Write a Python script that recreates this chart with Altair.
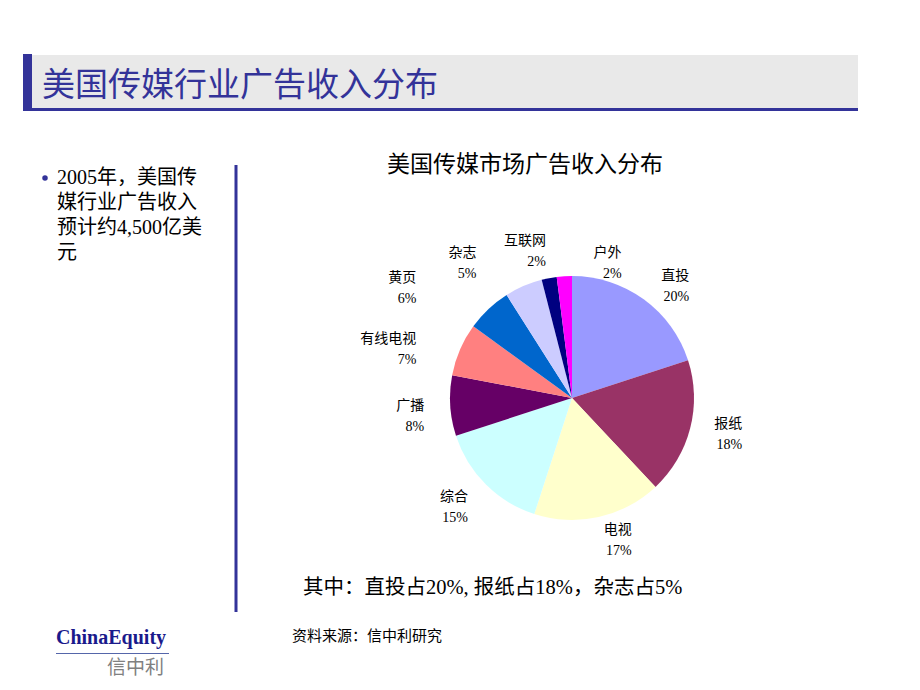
import altair as alt
import pandas as pd

# ---- data ----
categories = ["直投", "报纸", "电视", "综合", "广播", "有线电视", "黄页", "杂志", "互联网", "户外"]
shares = [20, 18, 17, 15, 8, 7, 6, 5, 2, 2]
colors = ["#9999FF", "#993366", "#FFFFCC", "#CCFFFF", "#660066",
          "#FF8080", "#0066CC", "#CCCCFF", "#000080", "#FF00FF"]

title_text = "美国传媒行业广告收入分布"
chart_title = "美国传媒市场广告收入分布"
bullet_text = "2005年，美国传\n媒行业广告收入\n预计约4,500亿美\n元"
note_text = "其中：直投占20%, 报纸占18%，杂志占5%"
source_text = "资料来源：信中利研究"

# label nudges (layout only)
label_nudge = {
    "直投": (29, -1), "报纸": (25, -11), "电视": (27, -14), "综合": (2, -7),
    "广播": (2, -1), "有线电视": (-18, 1), "黄页": (-53, -11), "杂志": (-36, -7),
    "互联网": (2, -10), "户外": (59, 5),
}

df = pd.DataFrame({
    "cat": categories,
    "share": shares,
    "idx": list(range(len(categories))),
    "label": [f"{c}\n{s}%" for c, s in zip(categories, shares)],
})

FONT = "Liberation Serif, Noto Sans CJK SC"
CJK = "Noto Sans CJK SC"
CX, CY = 572, 398
one = alt.Data(values=[{"a": 1}])


def txt(text, x, y, size, color="#000000", align="left", font=FONT, weight="normal",
        baseline="middle", line_height=None):
    kw = dict(align=align, baseline=baseline, fontSize=size, font=font,
              color=color, fontWeight=weight)
    if line_height is not None:
        kw["lineBreak"] = "\n"
        kw["lineHeight"] = line_height
    return alt.Chart(one).mark_text(**kw).encode(
        x=alt.value(x), y=alt.value(y), text=alt.value(text))


def rect(x, x2, y, y2, color):
    return alt.Chart(one).mark_rect(color=color).encode(
        x=alt.value(x), x2=alt.value(x2), y=alt.value(y), y2=alt.value(y2))


layers = []
# header
layers.append(rect(23, 858, 55, 110, "#E9E9E9"))
layers.append(rect(23, 858, 108, 111, "#333399"))
layers.append(rect(23, 32, 54, 111, "#333399"))
layers.append(txt(title_text, 42, 86, 33, color="#333399", font=CJK))

# left bullet
layers.append(alt.Chart(one).mark_point(filled=True, size=30, color="#333399", opacity=1).encode(
    x=alt.value(45), y=alt.value(178)))
layers.append(txt(bullet_text, 57, 168, 20, baseline="top", line_height=25))

# vertical divider
layers.append(alt.Chart(one).mark_rule(color="#333399", strokeWidth=3).encode(
    x=alt.value(236), y=alt.value(165), y2=alt.value(612)))

# chart title
layers.append(txt(chart_title, 525, 165, 23, align="center"))

# pie
theta = alt.Theta("share:Q", stack=True)
order = alt.Order("idx:Q")
pie = alt.Chart(df).mark_arc(outerRadius=122).encode(
    theta=theta,
    order=order,
    color=alt.Color("cat:N", scale=alt.Scale(domain=categories, range=colors), legend=None),
    x=alt.value(CX), y=alt.value(CY),
)
layers.append(pie)

for c in categories:
    dx, dy = label_nudge[c]
    layers.append(
        alt.Chart(df).mark_text(
            align="right", baseline="middle", lineBreak="\n", lineHeight=21,
            fontSize=14, font=FONT, color="#000000", radius=150, dx=dx, dy=dy,
        ).encode(
            theta=theta, order=order, text="label:N",
            x=alt.value(CX), y=alt.value(CY),
            opacity=alt.condition(alt.datum.cat == c, alt.value(1), alt.value(0)),
        )
    )

# notes
layers.append(txt(note_text, 303, 588, 20.5))
layers.append(txt(source_text, 292, 636, 15))

# logo
layers.append(txt("ChinaEquity", 56, 638, 20, color="#1A1A8C", weight="bold",
                  font="Liberation Serif"))
layers.append(rect(56, 169, 653, 654, "#5566AA"))
layers.append(txt("信中利", 107, 668, 19, color="#808080", font=CJK))

chart = alt.layer(*layers).properties(
    width=920, height=690, padding=0, autosize="none", background="#FFFFFF"
).configure_view(stroke=None)

chart.save("out.html", embed_options={"renderer": "svg", "actions": False})
